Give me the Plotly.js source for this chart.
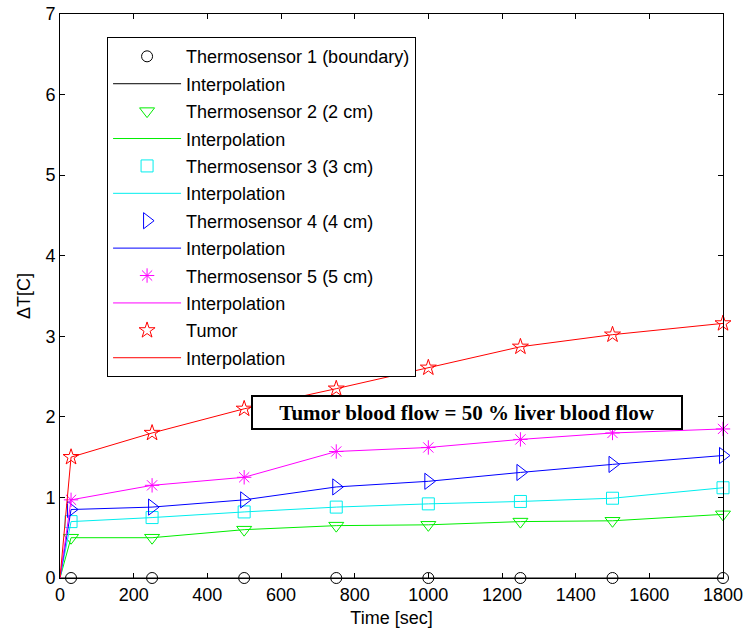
<!DOCTYPE html>
<html><head><meta charset="utf-8">
<script src="https://cdn.plot.ly/plotly-3.0.1.min.js"></script>
<style>body{margin:0;background:#fff}#chart{width:746px;height:637px}</style>
</head><body><div id="chart"></div>
<script>
const time = [30, 250, 500, 750, 1000, 1250, 1500, 1800];
const timeInterp = [0, 30, 250, 500, 750, 1000, 1250, 1500, 1800];
const sensor1 = [0, 0, 0, 0, 0, 0, 0, 0];
const sensor2 = [0.50, 0.50, 0.60, 0.65, 0.66, 0.70, 0.71, 0.79];
const sensor3 = [0.70, 0.75, 0.82, 0.88, 0.92, 0.95, 0.99, 1.12];
const sensor4 = [0.85, 0.88, 0.97, 1.13, 1.20, 1.31, 1.41, 1.52];
const sensor5 = [0.97, 1.15, 1.25, 1.57, 1.62, 1.72, 1.80, 1.85];
const tumor = [1.50, 1.80, 2.10, 2.35, 2.61, 2.87, 3.02, 3.16];
const names = ["Thermosensor 1 (boundary)", "Thermosensor 2 (2 cm)", "Thermosensor 3 (3 cm)",
               "Thermosensor 4 (4 cm)", "Thermosensor 5 (5 cm)", "Tumor"];
const series = [sensor1, sensor2, sensor3, sensor4, sensor5, tumor];
const colors = ["#000000", "#00ee00", "#00eeee", "#0000ff", "#ff00ff", "#ff0000"];
const symbols = ["circle-open", "triangle-down-open", "square-open", "triangle-right-open", "asterisk-open", "star-open"];
const sizes = [11, 13, 12, 14, 12, 12];
const interpLabel = "Interpolation";
const annotationText = "Tumor blood flow = 50 % liver blood flow";

const traces = [];
series.forEach((s, i) => {
  traces.push({
    x: time, y: s, mode: "markers", type: "scatter", name: names[i],
    legendgroup: "m" + i,
    marker: {symbol: symbols[i], size: sizes[i], color: colors[i], line: {color: colors[i], width: 1}},
    cliponaxis: false
  });
  traces.push({
    x: timeInterp, y: [0].concat(s), mode: "lines", type: "scatter", name: interpLabel,
    legendgroup: "l" + i,
    line: {color: colors[i], width: 1}
  });
});

const layout = {
  width: 746, height: 637,
  margin: {l: 60, r: 23, t: 14, b: 59},
  paper_bgcolor: "#fff", plot_bgcolor: "#fff",
  font: {family: "Liberation Sans, Arial, sans-serif", size: 18, color: "#000"},
  showlegend: true,
  legend: {
    x: 0.071, y: 0.959, xanchor: "left", yanchor: "top",
    bgcolor: "#fff", bordercolor: "#000", borderwidth: 1,
    font: {size: 18, family: "Liberation Sans, Arial, sans-serif"},
    traceorder: "grouped", tracegroupgap: 1, itemwidth: 68
  },
  xaxis: {
    range: [0, 1800], tickvals: [0,200,400,600,800,1000,1200,1400,1600,1800],
    ticks: "inside", ticklen: 5, tickcolor: "#000", mirror: "ticks",
    showline: true, linecolor: "#000", linewidth: 1, showgrid: false, zeroline: false,
    tickfont: {size: 18},
    title: {text: "Time [sec]", font: {size: 18}, standoff: 7}
  },
  yaxis: {
    range: [0, 7], tickvals: [0,1,2,3,4,5,6,7],
    ticks: "inside", ticklen: 5, tickcolor: "#000", mirror: "ticks",
    showline: true, linecolor: "#000", linewidth: 1, showgrid: false, zeroline: false,
    tickfont: {size: 18},
    title: {text: "ΔT[C]", font: {size: 18}, standoff: 10}
  },
  annotations: [{
    x: 1105, y: 2.06, xref: "x", yref: "y", xanchor: "center", yanchor: "middle",
    text: "<b>" + annotationText + "</b>",
    showarrow: false,
    font: {family: "Liberation Serif, Times New Roman, serif", size: 21, color: "#000"},
    bordercolor: "#000", borderwidth: 2, borderpad: 2, bgcolor: "#fff",
    width: 424, height: 27
  }]
};
Plotly.newPlot("chart", traces, layout, {displayModeBar: false});
</script>
</body></html>
